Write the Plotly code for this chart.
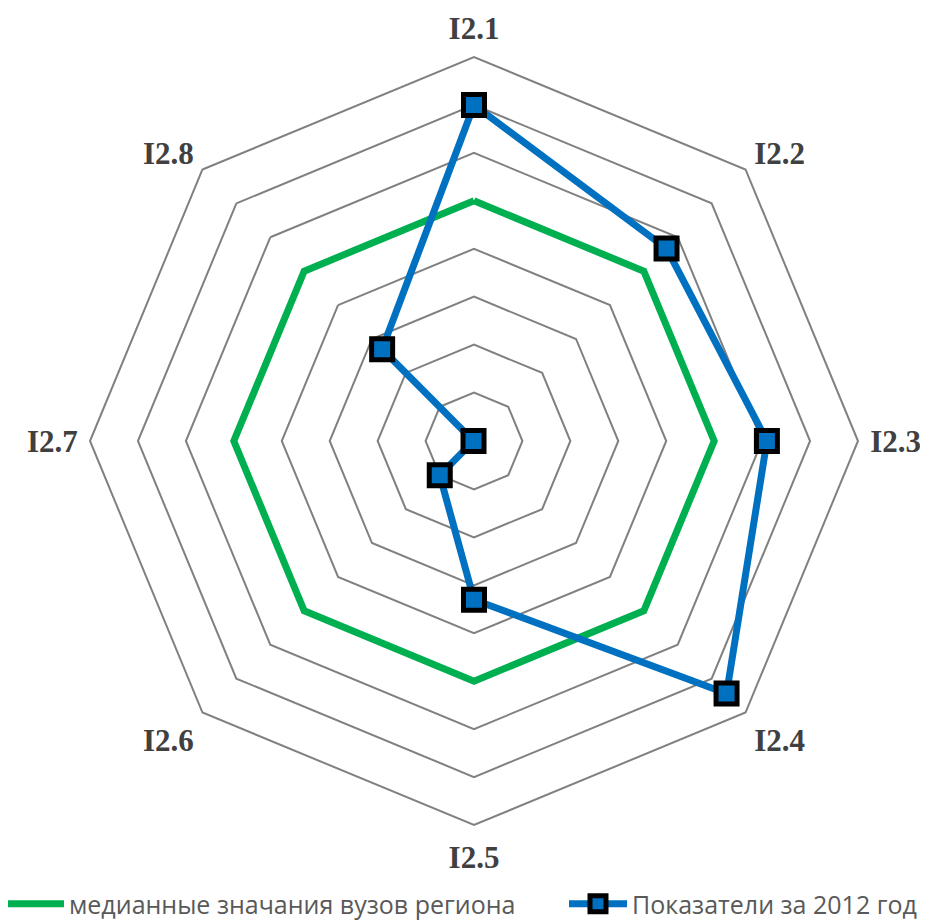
import plotly.graph_objects as go

categories = ["I2.1", "I2.2", "I2.3", "I2.4", "I2.5", "I2.6", "I2.7", "I2.8"]
median_values = [5, 5, 5, 5, 5, 5, 5, 5]
values_2012 = [7.0, 5.67, 6.1, 7.44, 3.3, 1.0, 0.0, 2.7]

median_name = "медианные значания вузов региона"
values_name = "Показатели за 2012 год"

theta = categories + categories[:1]

# page body has an 8px default margin; size the figure to fill the window
W, H = 920, 914
OFF = 8

legend_font = dict(family="Open Sans, Lato, Liberation Sans, sans-serif", size=25, color="#595959")

fig = go.Figure()
fig.add_trace(go.Scatterpolar(
    r=median_values + median_values[:1],
    theta=theta,
    mode="lines",
    name=median_name,
    line=dict(color="#00B050", width=7),
    legend="legend",
))
fig.add_trace(go.Scatterpolar(
    r=values_2012 + values_2012[:1],
    theta=theta,
    mode="lines+markers",
    name=values_name,
    line=dict(color="#0070C0", width=7),
    marker=dict(symbol="square", size=21, color="#0070C0",
                line=dict(color="#000000", width=5)),
    cliponaxis=True,
    legend="legend2",
))

fig.update_layout(
    width=W, height=H,
    margin=dict(l=0, r=0, t=0, b=0, autoexpand=False),
    paper_bgcolor="white",
    plot_bgcolor="white",
    showlegend=True,
    legend=dict(
        orientation="h",
        x=(6 - OFF - 5) / W, xanchor="left",
        y=(922 - 904) / H, yanchor="middle",
        font=legend_font,
        itemwidth=58,
        bgcolor="rgba(0,0,0,0)",
    ),
    legend2=dict(
        orientation="h",
        x=(569 - OFF - 5) / W, xanchor="left",
        y=(922 - 904) / H, yanchor="middle",
        font=legend_font,
        itemwidth=58,
        bgcolor="rgba(0,0,0,0)",
    ),
    polar=dict(
        domain=dict(x=[(90 - OFF) / W, (858 - OFF) / W],
                    y=[(922 - 825) / H, (922 - 57) / H]),
        bgcolor="white",
        gridshape="linear",
        radialaxis=dict(
            range=[-0.01, 8], dtick=1, tick0=0,
            showticklabels=False, ticks="", showline=False,
            gridcolor="#808080", gridwidth=2,
        ),
        angularaxis=dict(
            direction="clockwise", rotation=90,
            showgrid=False, ticks="outside", ticklen=5,
            tickcolor="rgba(0,0,0,0)",
            linecolor="#808080", linewidth=2,
            tickfont=dict(family="Liberation Serif, Times New Roman, serif",
                          size=31, color="#404040", weight="bold"),
        ),
    ),
)

fig.write_html("out.html")
